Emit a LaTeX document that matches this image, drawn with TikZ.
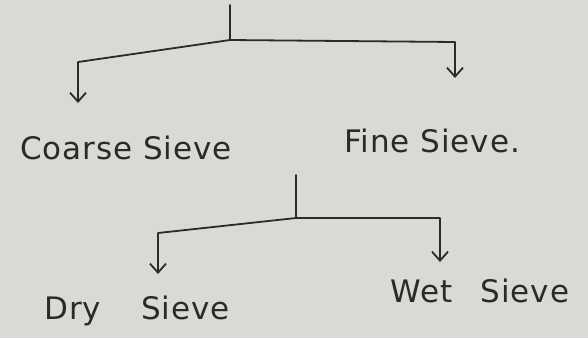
\documentclass[tikz,border=0pt]{standalone}
\usepackage{fontspec}
\setmainfont{DejaVu Sans}[LetterSpace=3]
\usetikzlibrary{arrows.meta}
\definecolor{paper}{HTML}{D9D9D5}
\definecolor{ink}{HTML}{2A2A2A}
\tikzset{
  link/.style={draw=ink, line width=1.8pt, line cap=round, line join=round},
  arr/.style={link, -{Straight Barb[length=9pt,width=16pt]}},
  lbl/.style={text=ink, font=\fontsize{31}{36}\selectfont, inner sep=0pt}
}
\begin{document}
\begin{tikzpicture}[x=1pt,y=-1pt]
\fill[paper] (0,0) rectangle (588,338);
\useasboundingbox (0,0) rectangle (588,338);
% top tree
\coordinate (t0) at (230,5);
\coordinate (t1) at (230,40);
\coordinate (tl) at (78,62);
\coordinate (tr) at (455,42);
\coordinate (tle) at (78,103);
\coordinate (tre) at (455,78);
\node[lbl] (coarse) at (126,148) {Coarse Sieve};
\node[lbl] (fine) at (432,141) {Fine Sieve.};
\draw[link] (t0) -- (t1);
\draw[arr] (t1) -- (tl) -- (tle);
\draw[arr] (t1) -- (tr) -- (tre);
% bottom tree
\coordinate (b0) at (296,175);
\coordinate (b1) at (296,218);
\coordinate (bl) at (158,233);
\coordinate (br) at (440,218);
\coordinate (ble) at (158,274);
\coordinate (bre) at (440,262);
\node[lbl] (dry) at (137,311) {Dry\hspace{40pt}Sieve};
\node[lbl] (wet) at (480,291) {Wet\hspace{28pt}Sieve};
\draw[link] (b0) -- (b1);
\draw[arr] (b1) -- (bl) -- (ble);
\draw[arr] (b1) -- (br) -- (bre);
\end{tikzpicture}
\end{document}
